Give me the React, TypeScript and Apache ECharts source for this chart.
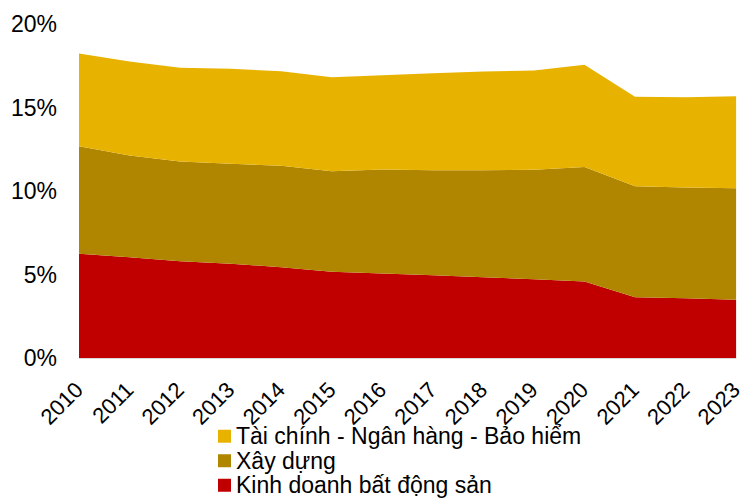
import React, { useEffect, useRef } from "react";
import * as echarts from "echarts";

const years = ["2010", "2011", "2012", "2013", "2014", "2015", "2016", "2017", "2018", "2019", "2020", "2021", "2022", "2023"];
const realEstate = [6.24, 6.04, 5.8, 5.64, 5.44, 5.16, 5.06, 4.96, 4.84, 4.72, 4.58, 3.64, 3.58, 3.49];
const construction = [6.44, 6.09, 5.97, 5.99, 6.07, 6.03, 6.23, 6.29, 6.41, 6.55, 6.85, 6.65, 6.63, 6.68];
const finance = [5.55, 5.62, 5.61, 5.69, 5.66, 5.62, 5.64, 5.8, 5.91, 5.95, 6.13, 5.35, 5.41, 5.51];

const NAME_RE = "Kinh doanh bất động sản";
const NAME_CON = "Xây dựng";
const NAME_FIN = "Tài chính - Ngân hàng - Bảo hiểm";

const FONT = "'Liberation Sans', Arial, sans-serif";

export default function App() {
  const ref = useRef<HTMLDivElement>(null);

  useEffect(() => {
    document.body.style.margin = "0";
    const chart = echarts.init(ref.current!, null, { renderer: "svg" });
    const area = (name: string, data: number[], color: string) => ({
      name,
      type: "line",
      stack: "total",
      data,
      symbol: "none",
      lineStyle: { width: 0 },
      areaStyle: { color, opacity: 1 },
      itemStyle: { color },
    });
    chart.setOption({
      animation: false,
      textStyle: { fontFamily: FONT },
      grid: { left: 79, right: 5, top: 24, bottom: 140 },
      xAxis: {
        type: "category",
        data: years,
        boundaryGap: false,
        axisLine: { lineStyle: { color: "#d9d9d9", width: 1 } },
        axisTick: { show: false },
        axisLabel: { rotate: 45, fontSize: 22, color: "#000", margin: 28, fontFamily: FONT },
      },
      yAxis: {
        type: "value",
        min: 0,
        max: 20,
        interval: 5,
        splitLine: { show: false },
        axisLine: { show: false },
        axisTick: { show: false },
        axisLabel: { formatter: "{value}%", fontSize: 23, color: "#000", margin: 22, fontFamily: FONT },
      },
      legend: {
        orient: "vertical",
        left: 213,
        top: 419,
        height: 80,
        itemWidth: 13,
        itemHeight: 13,
        itemGap: 0,
        icon: "rect",
        data: [NAME_FIN, NAME_CON, NAME_RE],
        textStyle: { fontSize: 23, lineHeight: 24.5, color: "#000", fontFamily: FONT },
      },
      series: [
        area(NAME_RE, realEstate, "#C00000"),
        area(NAME_CON, construction, "#B08600"),
        area(NAME_FIN, finance, "#E8B300"),
      ],
    });
    return () => chart.dispose();
  }, []);

  return <div ref={ref} style={{ width: 746, height: 498 }} />;
}
